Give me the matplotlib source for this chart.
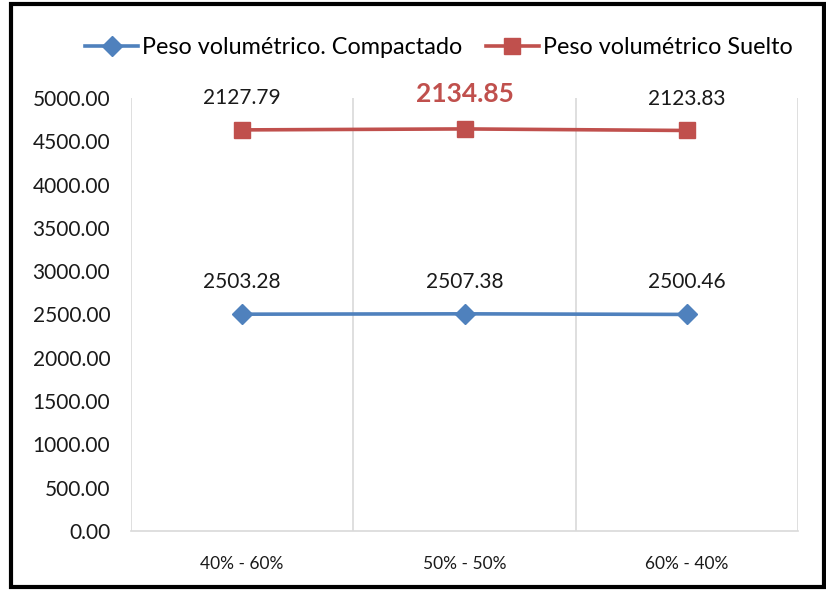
import matplotlib.pyplot as plt
from matplotlib.patches import Rectangle
import numpy as np

plt.rcParams['font.family'] = ['Lato', 'DejaVu Sans']

categorias = ['40% - 60%', '50% - 50%', '60% - 40%']
compactado = [2503.28, 2507.38, 2500.46]
suelto = [2127.79, 2134.85, 2123.83]

azul = '#4F81BD'
rojo = '#C0504D'

# grafico de lineas apiladas (como en Excel): la serie roja va encima de la azul
x = np.arange(len(categorias))
apilado = np.array(compactado) + np.array(suelto)

fig = plt.figure(figsize=(8.26, 5.9), dpi=100)
ax = fig.add_axes([0.1586, 0.1, 0.8075, 0.734])

ax.plot(x, compactado, color=azul, lw=2.6, marker='D', ms=10,
        label='Peso volumétrico. Compactado')
ax.plot(x, apilado, color=rojo, lw=2.6, marker='s', ms=11.5,
        label='Peso volumétrico Suelto')

for i in range(len(x)):
    ax.annotate('%.2f' % compactado[i], (x[i], compactado[i]),
                xytext=(0, 23), textcoords='offset points',
                ha='center', va='center', fontsize=15, color='#1a1a1a')
    if i == 1:
        ax.annotate('%.2f' % suelto[i], (x[i], apilado[i]),
                    xytext=(0, 25), textcoords='offset points',
                    ha='center', va='center', fontsize=19, color=rojo,
                    fontweight='bold')
    else:
        ax.annotate('%.2f' % suelto[i], (x[i], apilado[i]),
                    xytext=(0, 23), textcoords='offset points',
                    ha='center', va='center', fontsize=15, color='#1a1a1a')

ax.set_xlim(-0.5, 2.5)
ax.set_ylim(0, 5000)
ax.set_yticks(np.arange(0, 5001, 500))
ax.set_yticklabels(['%.2f' % v for v in np.arange(0, 5001, 500)])
ax.set_xticks(x)
ax.set_xticklabels(categorias)
ax.set_xticks([-0.5, 0.5, 1.5, 2.5], minor=True)
ax.grid(True, which='minor', axis='x', color='#d9d9d9', lw=1.2)
ax.tick_params(axis='y', length=0, labelsize=15, pad=15, colors='#1a1a1a')
ax.tick_params(axis='x', which='both', length=0, labelsize=12.5, pad=18, colors='#1a1a1a')
for s in ['top', 'right', 'left']:
    ax.spines[s].set_visible(False)
ax.spines['bottom'].set_color('#d9d9d9')
ax.spines['bottom'].set_linewidth(1.2)

fig.legend(loc='center', bbox_to_anchor=(0.531, 0.919), ncol=2, frameon=False,
           fontsize=16.8, handlelength=2.3, columnspacing=1.0, handletextpad=0.15)

fig.patches.append(Rectangle((0.0133, 0.005), 0.984, 0.988, transform=fig.transFigure,
                             fill=False, edgecolor='black', lw=3))

fig.savefig('out.png', dpi=100)
